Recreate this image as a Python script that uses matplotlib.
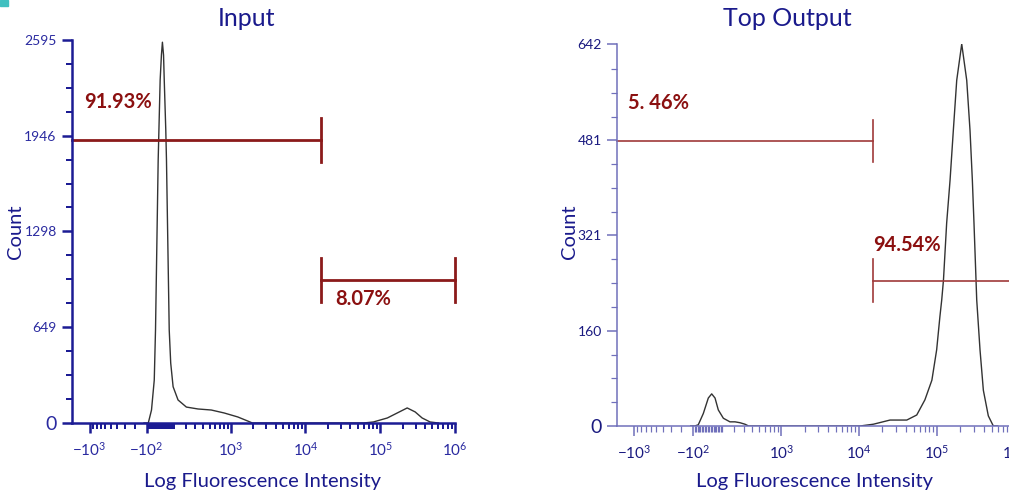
import numpy as np
import matplotlib
matplotlib.use("Agg")
from matplotlib import pyplot as plt
from matplotlib.patches import Rectangle

plt.rcParams['font.family'] = ['Lato', 'DejaVu Sans']
plt.rcParams['mathtext.default'] = 'regular'

# Input histogram (fluorescence value, count)
input_x = [-120, -87, -63, -43, -34, -15, -1, 8, 15, 23, 28, 39, 44, 64, 75, 93, 132,
           205, 331, 528, 804, 1237, 1773, 1950, 10000, 60000, 81140, 124570, 169190,
           229680, 293480, 363630, 464600, 600000]
input_y = [0, 0, 88, 291, 630, 1782, 2324, 2493, 2580, 2493, 2324, 1985, 1782, 630, 406,
           246, 156, 108, 95, 88, 68, 41, 9, 0, 0, 0, 7, 34, 68, 102, 75, 34, 7, 0]

# Top output histogram
top_x = [-120, -90, -65, -30, 4, 27, 50, 73, 110, 162, 206, 254, 307, 350, 1000, 10300,
         15300, 25000, 41000, 55000, 70000, 86000, 99000, 109000, 115000, 121000, 133000,
         147000, 162000, 179000, 207500, 240500, 265000, 284000, 298000, 316500, 323000,
         356000, 393000, 455000, 527500, 600000]
top_y = [0, 0, 2, 21, 47, 54, 47, 27, 13, 7, 7, 5.5, 3, 0, 0, 0,
         3, 10, 10, 18.5, 44, 77, 128, 184, 212, 245, 341,
         413, 497, 581, 642, 581, 497, 413, 341, 245, 212,
         128, 60, 17, 0, 0]

# gates: (x start, x end, y level, label, label x, label y)
input_gates = [(-1734, 16000, 1917, '91.93%', -1200, 2175),
               (16000, 1e6, 969, '8.07%', 25330, 840)]
top_gates = [(-1666, 15130, 479, '5. 46%', -1200, 543),
             (15130, 2e6, 244, '94.54%', 15130, 304)]

input_yticks = [0, 649, 1298, 1946, 2595]
top_yticks = [0, 160, 321, 481, 642]
xtick_vals = [-1000, -100, 1000, 10000, 100000, 1000000]
xtick_labels = ['$-10^3$', '$-10^2$', '$10^3$', '$10^4$', '$10^5$', '$10^6$']

NAVY = '#1a1a8c'
RED = '#8b1a1a'


def fwd(x):
    return np.arcsinh(np.asarray(x) / 230.0) / np.log(10)


def inv(y):
    return 230.0 * np.sinh(np.asarray(y) * np.log(10))


minor_x = [-k * 100 for k in range(2, 10)] + list(range(-90, 100, 10))
for d in [100, 1000, 10000, 100000]:
    minor_x += [k * d for k in range(1, 10)]


def setup(ax, xlim, yticks, spine_col, spine_w, label_col):
    ax.set_xscale('function', functions=(fwd, inv))
    ax.set_xlim(*xlim)
    ax.set_ylim(0, yticks[-1])
    for s in ['top', 'right']:
        ax.spines[s].set_visible(False)
    for s in ['left', 'bottom']:
        ax.spines[s].set_color(spine_col)
        ax.spines[s].set_linewidth(spine_w)
    ax.set_xticks(xtick_vals)
    ax.set_xticklabels(xtick_labels)
    ax.set_xticks(minor_x, minor=True)
    ax.set_yticks(yticks)
    ax.set_yticklabels([str(v) for v in yticks])
    step = yticks[1] / 4.0
    ax.set_yticks([step * i for i in range(1, 16) if i % 4], minor=True)
    ax.tick_params(which='major', length=7, width=spine_w, color=spine_col,
                   labelcolor=label_col, labelsize=10, pad=4)
    ax.tick_params(which='minor', length=4, width=spine_w * 0.8, color=spine_col)
    ax.tick_params(axis='x', which='major', pad=6, labelsize=11)
    ax.get_yticklabels()[0].set_fontsize(14)
    ax.set_facecolor('none')


fig = plt.figure(figsize=(10.09, 4.96), dpi=100)
ax1 = fig.add_axes([72 / 1009, 73 / 496, 383 / 1009, 383 / 496])
ax2 = fig.add_axes([617 / 1009, 70 / 496, 398 / 1009, 382 / 496])

setup(ax1, (-1734, 1e6), input_yticks, '#1c1c94', 1.8, '#2a2aa0')
setup(ax2, (-1666, 1e6), top_yticks, '#7070bb', 1.1, '#1a1a80')

ax1.plot(input_x, input_y, color='#333333', lw=1.0)
ax2.plot(top_x, top_y, color='#333333', lw=1.0)


def draw_gates(ax, gates, lw, col, half):
    for i, (x0, x1, yv, lab, lx, ly) in enumerate(gates):
        ax.plot([x0, x1], [yv, yv], color=col, lw=lw, clip_on=False)
        ends = [x1] if i == 0 else [x0, x1]
        for e in ends:
            ax.plot([e, e], [yv - half, yv + half], color=col, lw=lw, clip_on=False)
        ax.text(lx, ly, lab, color='#8b1010', fontsize=14.5, fontweight='bold',
                ha='left', va='center')


draw_gates(ax1, input_gates, 2.0, RED, 150)
draw_gates(ax2, top_gates, 1.2, '#a03a3a', 36)

fig.text(247 / 1009, 1 - 18 / 496, 'Input', color=NAVY, fontsize=18, ha='center', va='center')
fig.text(787 / 1009, 1 - 18 / 496, 'Top Output', color=NAVY, fontsize=18, ha='center', va='center')
for xc in [262, 815]:
    fig.text(xc / 1009, 1 - 482 / 496, 'Log Fluorescence Intensity', color=NAVY,
             fontsize=14.5, ha='center', va='center')
for xc in [16, 570]:
    fig.text(xc / 1009, 1 - 232 / 496, 'Count', color=NAVY, fontsize=14.5,
             rotation=90, ha='center', va='center')

fig.patches.append(Rectangle((0, 1 - 6 / 496), 8 / 1009, 6 / 496, transform=fig.transFigure,
                             color='#40c0c0', zorder=0))

fig.savefig('out.png', dpi=100)
